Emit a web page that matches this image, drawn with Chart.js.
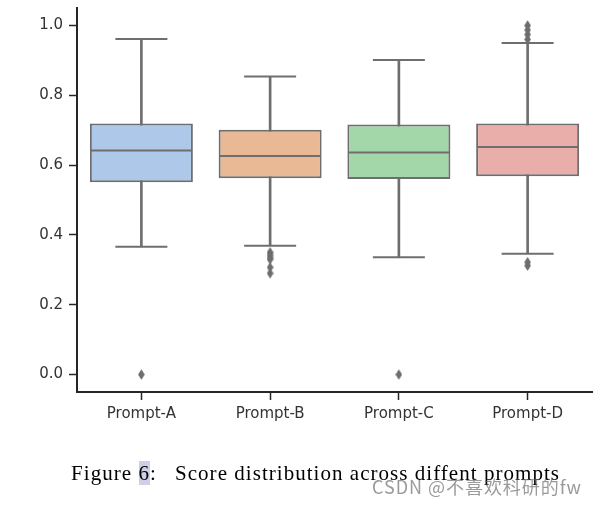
<!DOCTYPE html>
<html>
<head>
<meta charset="utf-8">
<script src="https://cdn.jsdelivr.net/npm/chart.js@4.4.1/dist/chart.umd.min.js"></script>
<style>
  html, body { margin:0; padding:0; background:#fff; }
  #wrap { position:relative; width:598px; height:505px; overflow:hidden; }
  #c { position:absolute; left:0; top:0; }
  .cap { position:absolute; font-family:'Liberation Serif', serif; font-size:21px; line-height:20px; color:#000; white-space:nowrap; }
  .hl { background:#cdd0e6; }
  #wm { position:absolute; left:372px; top:476px; font-family:'Noto Sans CJK SC', sans-serif; font-size:18px; line-height:20px; color:rgba(100,100,100,0.65); white-space:nowrap; }
</style>
</head>
<body>
<div id="wrap">
  <canvas id="c" width="598" height="505"></canvas>
  <div class="cap" id="cap1" style="left:71px; top:463px;">Figure <span class="hl">6</span>:</div>
  <div class="cap" id="cap2" style="left:175px; top:463px;">Score distribution across diffent prompts</div>
  <div id="wm">CSDN @不喜欢科研的fw</div>
</div>
<script>
// ---- data ----
const categories = ['Prompt-A', 'Prompt-B', 'Prompt-C', 'Prompt-D'];
const whiskerLow  = [0.366, 0.369, 0.336, 0.346];
const q1          = [0.551, 0.562, 0.560, 0.568];
const median      = [0.642, 0.626, 0.636, 0.652];
const q3          = [0.719, 0.701, 0.716, 0.719];
const whiskerHigh = [0.961, 0.854, 0.901, 0.950];
const outliersA = [0.0];
const outliersB = [0.350, 0.343, 0.336, 0.330, 0.307, 0.290];
const outliersC = [0.0];
const outliersD = [1.0, 0.987, 0.974, 0.960, 0.322, 0.312];
const yTicks = [0.0, 0.2, 0.4, 0.6, 0.8, 1.0];

// ---- styles ----
const boxColors = ['#aec8e9', '#e9b995', '#a3d6a8', '#e9aeaa'];
const gray = '#6e6e6e';
const axisColor = '#262626';

const outlierLists = [outliersA, outliersB, outliersC, outliersD];
const outlierPoints = [];
outlierLists.forEach((list, i) => list.forEach(v => outlierPoints.push({ x: categories[i], y: v })));

// thin diamond marker
const diamond = document.createElement('canvas');
diamond.width = 7; diamond.height = 11;
(function () {
  const g = diamond.getContext('2d');
  g.fillStyle = gray;
  g.beginPath();
  g.moveTo(3.5, 0.3); g.lineTo(6.8, 5.5); g.lineTo(3.5, 10.7); g.lineTo(0.2, 5.5);
  g.closePath(); g.fill();
})();

const capPoints = [];
categories.forEach((c, i) => { capPoints.push({ x: c, y: whiskerLow[i] }); capPoints.push({ x: c, y: whiskerHigh[i] }); });

Chart.defaults.font.family = "'DejaVu Sans', sans-serif";

new Chart(document.getElementById('c'), {
  type: 'bar',
  data: {
    labels: categories,
    datasets: [
      {
        type: 'bar', label: 'whiskers',
        data: categories.map((c, i) => [whiskerLow[i], whiskerHigh[i]]),
        backgroundColor: gray, borderWidth: 0,
        barThickness: 2, grouped: false, order: 5
      },
      {
        type: 'bar', label: 'boxes',
        data: categories.map((c, i) => [q1[i], q3[i]]),
        backgroundColor: boxColors, borderColor: gray, borderWidth: 2,
        borderSkipped: false, barPercentage: 0.8, categoryPercentage: 1.0,
        grouped: false, order: 4
      },
      {
        type: 'line', label: 'outliers',
        data: outlierPoints, showLine: false,
        pointStyle: diamond, pointRadius: 4, order: 3
      },
      {
        type: 'line', label: 'caps',
        data: capPoints, showLine: false,
        pointStyle: 'line', pointRadius: 26, pointBorderWidth: 2,
        pointBorderColor: gray, borderColor: gray, order: 2
      },
      {
        type: 'line', label: 'medians',
        data: categories.map((c, i) => ({ x: c, y: median[i] })), showLine: false,
        pointStyle: 'line', pointRadius: 50.5, pointBorderWidth: 2,
        pointBorderColor: gray, borderColor: gray, order: 1
      }
    ]
  },
  options: {
    responsive: false,
    animation: false,
    events: [],
    layout: { autoPadding: false, padding: { top: 8, right: 6, left: 0, bottom: 0 } },
    plugins: { legend: { display: false }, tooltip: { enabled: false } },
    scales: {
      x: {
        type: 'category',
        offset: true,
        afterFit: s => { s.height = 113; s.paddingLeft = 0; s.paddingRight = 0; },
        grid: { display: true, offset: false, drawOnChartArea: false, drawTicks: true, tickLength: 8, tickWidth: 1.5, tickColor: axisColor },
        border: { display: true, color: axisColor, width: 2 },
        ticks: { color: '#333333', font: { size: 15 }, padding: 5, maxRotation: 0 }
      },
      y: {
        type: 'linear',
        min: -0.05, max: 1.05,
        afterFit: s => { s.width = 77; s.paddingTop = 0; s.paddingBottom = 0; },
        afterBuildTicks: s => { s.ticks = yTicks.map(v => ({ value: v })); },
        grid: { display: true, drawOnChartArea: false, drawTicks: true, tickLength: 8, tickWidth: 1.5, tickColor: axisColor },
        border: { display: true, color: axisColor, width: 2 },
        ticks: { color: '#333333', font: { size: 15 }, padding: 6, callback: v => Number(v).toFixed(1) }
      }
    }
  }
});

// fit caption text widths to the reference
function fitWidth(el, target) {
  const w = el.getBoundingClientRect().width;
  const n = el.textContent.length;
  el.style.letterSpacing = ((target - w) / n) + 'px';
}
fitWidth(document.getElementById('cap1'), 86);
fitWidth(document.getElementById('cap2'), 385);
fitWidth(document.getElementById('wm'), 210);
</script>
</body>
</html>
